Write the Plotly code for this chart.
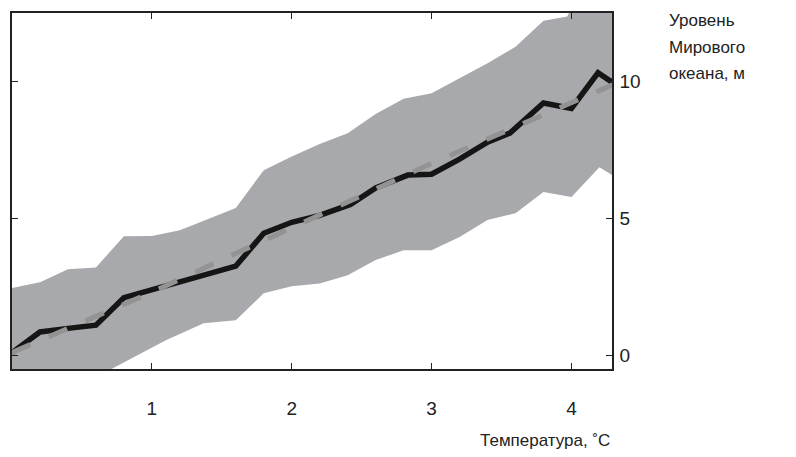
import plotly.graph_objects as go

# Model mean (black line)
mean_x = [0, 0.2, 0.43, 0.6, 0.8, 1.0, 1.2, 1.4, 1.6, 1.8, 2.0, 2.2, 2.42, 2.6, 2.83, 3.0, 3.2, 3.4, 3.56, 3.8, 4.0, 4.19, 4.29]
mean_y = [0.1, 0.85, 1.0, 1.1, 2.1, 2.4, 2.65, 3.0, 3.25, 4.45, 4.85, 5.1, 5.5, 6.1, 6.57, 6.6, 7.15, 7.77, 8.1, 9.2, 9.0, 10.3, 9.96]

# Fitted trend (grey dashed line)
fit_x = [0, 1.0, 2.0, 3.0, 4.29]
fit_y = [0.1, 2.3, 4.65, 7.0, 9.85]

# Uncertainty band
upper_x = [0, 0.2, 0.4, 0.6, 0.8, 1.0, 1.2, 1.4, 1.6, 1.8, 2.0, 2.2, 2.4, 2.6, 2.8, 3.0, 3.2, 3.4, 3.6, 3.8, 3.97, 4.05, 4.2, 4.29]
upper_y = [2.45, 2.66, 3.14, 3.2, 4.34, 4.35, 4.56, 4.96, 5.37, 6.75, 7.25, 7.7, 8.1, 8.8, 9.35, 9.55, 10.1, 10.65, 11.25, 12.2, 12.35, 13.2, 13.4, 13.5]
lower_x = [0, 0.2, 0.4, 0.6, 0.8, 0.9, 1.1, 1.37, 1.6, 1.8, 2.0, 2.2, 2.4, 2.6, 2.8, 3.0, 3.2, 3.4, 3.6, 3.8, 4.0, 4.2, 4.29]
lower_y = [-2.3, -1.8, -1.3, -0.8, -0.25, 0.0, 0.55, 1.17, 1.28, 2.26, 2.52, 2.62, 2.92, 3.47, 3.83, 3.83, 4.31, 4.93, 5.18, 5.95, 5.77, 6.86, 6.57]

x_ticks = [1, 2, 3, 4]
y_ticks = [0, 5, 10]
x_title = "Температура, ˚С"
y_title_lines = ["Уровень", "Мирового", "океана, м"]

FONT = "Liberation Sans, Arial, sans-serif"
TXT = "#222"

fig = go.Figure()
fig.add_trace(go.Scatter(
    x=upper_x + lower_x[::-1], y=upper_y + lower_y[::-1],
    fill="toself", fillcolor="#a8a9ac", mode="lines", line=dict(width=0),
    hoverinfo="skip", showlegend=False))
fig.add_trace(go.Scatter(
    x=mean_x, y=mean_y, mode="lines",
    line=dict(color="#151515", width=5.5), showlegend=False))
fig.add_trace(go.Scatter(
    x=fit_x, y=fit_y, mode="lines",
    line=dict(color="#939393", width=5, dash="20px,20px"), showlegend=False))

annotations = [
    dict(text=x_title, xref="paper", yref="paper", x=1.0, y=0,
         yshift=-71, xanchor="right", yanchor="middle", showarrow=False,
         font=dict(size=17, family=FONT, color=TXT)),
]
for i, (line, dy) in enumerate(zip(y_title_lines, [-7, -34, -60])):
    annotations.append(dict(
        text=line, xref="paper", yref="paper", x=1.0, xshift=55, y=1.0,
        yshift=dy, xanchor="left", yanchor="middle", showarrow=False,
        font=dict(size=17, family=FONT, color=TXT)))

fig.update_layout(
    width=788, height=449,
    margin=dict(l=2, r=184, t=5, b=88),
    paper_bgcolor="white", plot_bgcolor="white",
    font=dict(family=FONT, size=19, color=TXT),
    xaxis=dict(range=[0, 4.29], tickvals=x_ticks, ticks="inside", ticklen=6,
               tickcolor=TXT, showline=True, linecolor=TXT, linewidth=1.5,
               mirror="ticks", showgrid=False, zeroline=False,
               ticklabelstandoff=21),
    yaxis=dict(range=[-0.5, 12.48], tickvals=y_ticks, side="right",
               ticks="inside", ticklen=6, tickcolor=TXT, showline=True,
               linecolor=TXT, linewidth=1.5, mirror="ticks", showgrid=False,
               zeroline=False, ticklabelstandoff=2),
    annotations=annotations,
)

fig.write_html("out.html")
